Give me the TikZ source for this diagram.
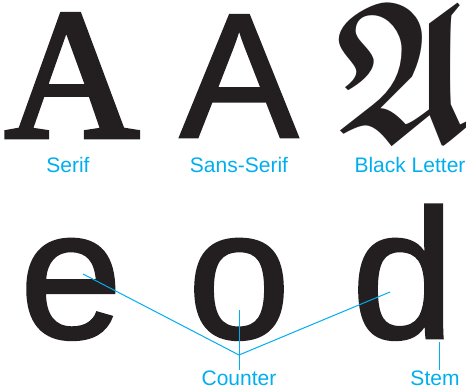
\documentclass[tikz,border=0pt]{standalone}
\usepackage{amssymb}
\usepackage{fontspec}
\setmainfont{Liberation Sans}
\newfontfamily\serifA[FakeBold=2.5]{Liberation Serif}
\newfontfamily\heavysans[FakeBold=1.5]{Liberation Sans}
\definecolor{inkblack}{HTML}{231F20}
\definecolor{labelblue}{RGB}{0,174,239}
\tikzset{
  glyph/.style={inner sep=0pt, text=inkblack, anchor=base},
  tag/.style={inner sep=0pt, text=labelblue, font=\fontsize{21}{21}\selectfont, anchor=base},
  leader/.style={draw=labelblue, line width=1pt}
}
\begin{document}
\begin{tikzpicture}[x=1pt, y=-1pt]
    \useasboundingbox (0, 0) rectangle (466, 391);

    \node[glyph, font=\serifA\fontsize{186}{186}\selectfont] (serifa) at (72, 137) {A};
    \node[glyph, font=\heavysans\fontsize{177}{177}\selectfont] (sansa) at (239, 137) {A};
    \node[glyph, font=\fontsize{164}{164}\selectfont\boldmath] (blacka) at (404, 140) {\scalebox{1}[1.22]{$\mathfrak{A}$}};

    \node[tag] (serif) at (68, 172) {Serif}; \node[tag] (sans) at (239, 172) {Sans-Serif}; \node[tag] (black) at (410, 172) {Black Letter};

    \node[glyph, font=\heavysans\fontsize{184}{184}\selectfont] (e) at (71, 338) {e};
    \node[glyph, font=\heavysans\fontsize{184}{184}\selectfont] (o) at (239, 338) {o};
    \node[glyph, font=\heavysans\fontsize{184}{184}\selectfont] (d) at (403, 338) {d};

    \node[tag] (counter) at (239, 385) {Counter}; \node[tag] (stem) at (435, 385) {Stem};

    \coordinate (ehole) at (83, 274); \coordinate (ohole) at (239, 310); \coordinate (dhole) at (390, 292);
    \coordinate (apex) at (239, 355); \coordinate (stemtop) at (439, 342);

    \draw[leader] (ehole) -- (apex) -- (dhole);
    \draw[leader] (ohole) -- (counter.north);
    \draw[leader] (stemtop) -- (stem.north -| stemtop);
  \end{tikzpicture}
\end{document}
